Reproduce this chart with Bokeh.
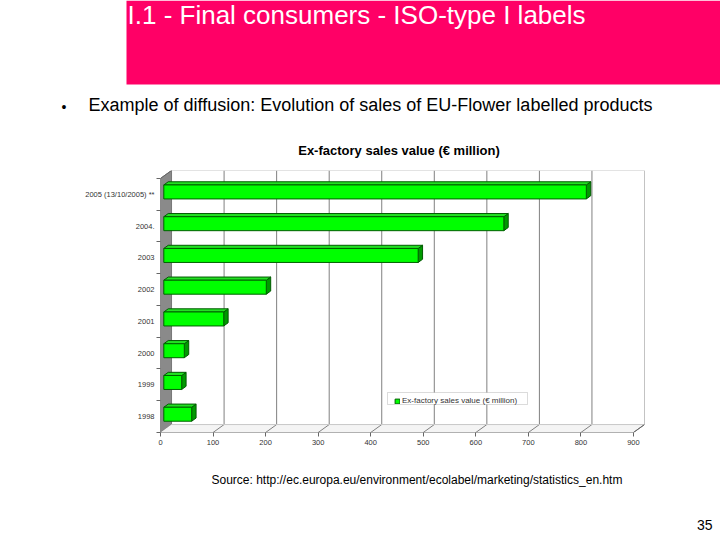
from bokeh.plotting import figure
from bokeh.layouts import column, row
from bokeh.models import Range1d, FixedTicker, BoxAnnotation, Legend, LegendItem
from bokeh.core.properties import value
from bokeh.embed import file_html
from bokeh.resources import INLINE

# data
years = ["1998", "1999", "2000", "2001", "2002", "2003", "2004.", "2005 (13/10/2005) **"]
sales = [53, 34, 39, 114, 195, 484, 647, 804]
x_ticks = [0, 100, 200, 300, 400, 500, 600, 700, 800, 900]

slide_title = "I.1 - Final consumers -  ISO-type I labels"
bullet_text = "Example of diffusion: Evolution of sales of EU-Flower labelled products"
chart_title = "Ex-factory sales value (€ million)"
source_text = "Source: http://ec.europa.eu/environment/ecolabel/marketing/statistics_en.htm"
page_no = "35"

FONT = "Liberation Sans"
W = 720
DX = 21      # depth of the 3D box, x data units
DY = 0.25    # depth of the 3D box, category units
F, B = 0.3, 0.7   # front / back depth of the bars
H = 0.44     # bar thickness
n = len(years)
xmax = x_ticks[-1]


def blank(height, y0, y1):
    # plain panel whose ranges follow the slide's pixel grid
    f = figure(width=W, height=height, output_backend="svg", toolbar_location=None,
               x_range=Range1d(0, W), y_range=Range1d(y1, y0),
               min_border=0)
    f.axis.visible = False
    f.grid.visible = False
    f.outline_line_color = None
    return f


# header: pink banner, slide title, bullet and chart title
head = blank(165, 0, 165)
head.quad(left=126, right=W, top=0, bottom=84, fill_color="#ff0066", line_color=None)
head.text(x=[127], y=[14.5], text=[slide_title], text_font=value(FONT),
          text_font_size="26px", text_color="white", text_baseline="middle")
head.text(x=[63.5], y=[106], text=["•"], text_font=value(FONT), text_font_size="14px",
          text_color="black", text_baseline="middle", text_align="center")
head.text(x=[88], y=[104], text=[bullet_text], text_font=value(FONT),
          text_font_size="18px", text_color="black", text_baseline="middle")
head.text(x=[398.5], y=[149.5], text=[chart_title], text_font=value(FONT),
          text_font_size="13px", text_font_style="bold", text_color="black",
          text_baseline="middle", text_align="center")

# the chart
p = figure(width=W, height=290, output_backend="svg", toolbar_location=None,
           x_range=Range1d(0, xmax + DX), y_range=Range1d(0, n + DY),
           min_border_left=160, min_border_right=76,
           min_border_top=5, min_border_bottom=23)
p.outline_line_color = None
p.grid.visible = False

# walls of the 3D box
p.patch([0, DX, DX, 0], [0, DY, n + DY, n], fill_color="#8a8a8a", line_color="#777777")
p.patch([0, xmax, xmax + DX, DX], [0, 0, DY, DY], fill_color="#f4f4f4", line_color=None)
p.segment(x0=[t + DX for t in x_ticks[1:]], y0=[DY] * (len(x_ticks) - 1),
          x1=[t + DX for t in x_ticks[1:]], y1=[n + DY] * (len(x_ticks) - 1),
          line_color="#808080", line_width=1)
p.segment(x0=x_ticks[1:], y0=[0] * (len(x_ticks) - 1),
          x1=[t + DX for t in x_ticks[1:]], y1=[DY] * (len(x_ticks) - 1),
          line_color="#808080", line_width=1)
p.line([DX, xmax + DX, xmax + DX], [n + DY, n + DY, DY], line_color="#c8c8c8", line_width=1)
p.line([DX, xmax + DX], [DY, DY], line_color="#c8c8c8", line_width=1)

# 3D bars
left, right, bottom, top = [], [], [], []
top_xs, top_ys, side_xs, side_ys = [], [], [], []
for i, v in enumerate(sales):
    c = i + 0.5
    x0, x1 = F * DX, v + F * DX
    y0, y1 = c - H / 2 + F * DY, c + H / 2 + F * DY
    ddx, ddy = (B - F) * DX, (B - F) * DY
    left.append(x0); right.append(x1); bottom.append(y0); top.append(y1)
    top_xs.append([x0, x1, x1 + ddx, x0 + ddx])
    top_ys.append([y1, y1, y1 + ddy, y1 + ddy])
    side_xs.append([x1, x1 + ddx, x1 + ddx, x1])
    side_ys.append([y0, y0 + ddy, y1 + ddy, y1])

p.patches(side_xs, side_ys, fill_color="#009a00", line_color="#005a00", line_width=1)
p.patches(top_xs, top_ys, fill_color="#22e022", line_color="#005a00", line_width=1)
bars = p.quad(left=left, right=right, bottom=bottom, top=top,
              fill_color="#00ff00", line_color="#006000", line_width=1)

# front axis lines
p.line([0, xmax, xmax + DX], [0, 0, DY], line_color="#666666", line_width=1)
p.line([0, 0, DX], [0, n, n + DY], line_color="#666666", line_width=1)

p.xaxis.ticker = FixedTicker(ticks=x_ticks)
p.xaxis.axis_line_color = None
p.xaxis.major_tick_line_color = "#666666"
p.xaxis.major_tick_in = 0
p.xaxis.major_tick_out = 4
p.xaxis.minor_tick_line_color = None
p.xaxis.major_label_text_font = FONT
p.xaxis.major_label_text_font_size = "7.5px"
p.xaxis.major_label_text_color = "#333333"
p.xaxis.major_label_standoff = 3

centers = [i + 0.5 for i in range(n)]
p.yaxis.ticker = FixedTicker(ticks=centers, minor_ticks=list(range(n + 1)))
p.yaxis.major_label_overrides = {c: y for c, y in zip(centers, years)}
p.yaxis.axis_line_color = None
p.yaxis.major_tick_line_color = None
p.yaxis.major_tick_out = 0
p.yaxis.major_tick_in = 0
p.yaxis.minor_tick_line_color = "#666666"
p.yaxis.minor_tick_in = 0
p.yaxis.minor_tick_out = 4
p.yaxis.major_label_text_font = FONT
p.yaxis.major_label_text_font_size = "7.5px"
p.yaxis.major_label_text_color = "#333333"
p.yaxis.major_label_standoff = 2

# legend frame, then the legend itself on top
p.add_layout(BoxAnnotation(left=227, right=367, bottom=28, top=40,
                           left_units="screen", right_units="screen",
                           bottom_units="screen", top_units="screen",
                           fill_color="white", fill_alpha=1,
                           line_color="#888888", line_width=1))
legend = Legend(items=[LegendItem(label=chart_title, renderers=[bars])],
                location=(234, 27))
legend.label_text_font = FONT
legend.label_text_font_size = "8px"
legend.label_text_color = "#333333"
legend.label_height = 8
legend.label_standoff = 2
legend.glyph_width = 6
legend.glyph_height = 6
legend.padding = 3
legend.margin = 0
legend.spacing = 0
legend.border_line_color = None
legend.background_fill_alpha = 0
p.add_layout(legend)

# footer: source and page number
foot = blank(85, 455, 540)
foot.text(x=[211], y=[479.5], text=[source_text], text_font=value(FONT),
          text_font_size="12px", text_color="black", text_baseline="middle")
foot.text(x=[712], y=[524], text=[page_no], text_font=value(FONT),
          text_font_size="14px", text_color="black", text_baseline="middle",
          text_align="right")

# the chart sits in its own row so that its wide borders are not shared
layout = column(head, row(p), foot, spacing=0)
open("out.html", "w").write(file_html(layout, INLINE))
